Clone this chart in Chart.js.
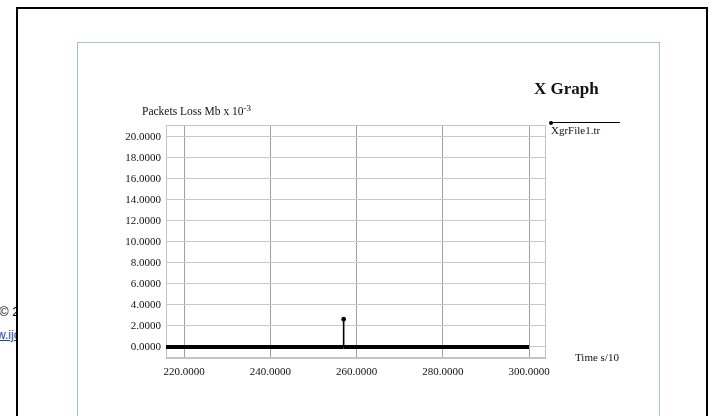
<!DOCTYPE html>
<html>
<head>
<meta charset="utf-8">
<script src="https://cdn.jsdelivr.net/npm/chart.js@4.4.1/dist/chart.umd.min.js"></script>
<style>
  html, body { margin:0; padding:0; background:#fff; width:715px; height:416px; overflow:hidden; }
  #wrap { position:relative; width:715px; height:416px; }
  .abs { position:absolute; white-space:nowrap; }
  #frame { position:absolute; left:16px; top:7px; width:692px; height:420px; border:2.5px solid #000; border-bottom:none; background:#fff; box-sizing:border-box; }
  #blue { position:absolute; left:77px; top:42px; width:583px; height:400px; border:1px solid #a4bfe3; border-bottom:none; box-sizing:border-box; }
  canvas { position:absolute; left:0; top:0; }
  .serif { font-family:"Liberation Serif","DejaVu Serif",serif; color:#111; }
</style>
</head>
<body>
<div id="wrap">
  <div class="abs" style="left:-1px;top:304px;font:13px 'Liberation Sans',Arial,sans-serif;color:#000;">© 2</div>
  <div class="abs" style="left:-3px;top:328px;font:12px 'Liberation Sans',Arial,sans-serif;color:#1a3fa8;text-decoration:underline;">w.ijcsit</div>
  <div id="frame"></div>
  <div id="blue"></div>
  <canvas id="c" width="715" height="416"></canvas>
  <div class="abs serif" style="left:534px;top:79px;font-size:17px;font-weight:bold;">X Graph</div>
  <div class="abs serif" style="left:142px;top:103px;font-size:11.5px;">Packets Loss Mb x 10<sup style="font-size:9px;vertical-align:4px;">-3</sup></div>
  <div class="abs serif" style="left:575px;top:351px;font-size:11px;">Time s/10</div>
  <div class="abs" style="left:550px;top:122px;width:70px;border-top:1.3px solid #000;"></div>
  <div class="abs" style="left:548.5px;top:121px;width:4px;height:4px;border-radius:2px;background:#000;"></div>
  <div class="abs serif" style="left:551px;top:124px;font-size:11px;">XgrFile1.tr</div>
</div>
<script>
// Data
const timeValues = [215.8, 257.0, 257.0, 257.0, 300.0];
const lossValues = [0, 0, 2.65, 0, 0];
const xTickValues = [220, 240, 260, 280, 300];
const yTickValues = [0, 2, 4, 6, 8, 10, 12, 14, 16, 18, 20];
const xRange = [215.8, 303.7];
const yRange = [-1.02, 21.14];

const points = timeValues.map((t, i) => ({ x: t, y: lossValues[i] }));

const areaBorder = {
  id: 'areaBorder',
  beforeDatasetsDraw(chart) {
    const a = chart.chartArea, ctx = chart.ctx;
    ctx.save();
    ctx.strokeStyle = '#c4c4c4';
    ctx.lineWidth = 1;
    ctx.strokeRect(Math.round(a.left) + 0.5, Math.round(a.top) + 0.5,
                   Math.round(a.right - a.left), Math.round(a.bottom - a.top));
    ctx.restore();
  }
};

const serif = '"Liberation Serif","DejaVu Serif",serif';

new Chart(document.getElementById('c'), {
  type: 'line',
  data: {
    datasets: [{
      label: 'XgrFile1.tr',
      data: points,
      borderColor: '#000',
      backgroundColor: '#000',
      borderWidth: 4,
      fill: false,
      tension: 0,
      pointRadius: ctx => (ctx.raw && ctx.raw.y > 0 ? 2.3 : 0),
      pointHoverRadius: 0,
      pointBackgroundColor: '#000',
      pointBorderWidth: 0,
      segment: {
        borderWidth: ctx => (ctx.p0.parsed.y === 0 && ctx.p1.parsed.y === 0 ? 4 : 1.6)
      }
    }]
  },
  options: {
    responsive: false,
    animation: false,
    events: [],
    layout: { padding: { left: 0, top: 125, right: 170, bottom: 0 } },
    plugins: { legend: { display: false }, title: { display: false }, tooltip: { enabled: false } },
    scales: {
      x: {
        type: 'linear',
        min: xRange[0],
        max: xRange[1],
        afterBuildTicks: s => { s.ticks = xTickValues.map(v => ({ value: v })); },
        afterFit: s => { s.height = 58.3; },
        ticks: {
          callback: v => Number(v).toFixed(4),
          color: '#111',
          font: { family: serif, size: 11 },
          padding: 8,
          maxRotation: 0,
          autoSkip: false
        },
        grid: { color: '#a0a0a0', lineWidth: 1, drawTicks: false },
        border: { display: true, color: '#c4c4c4' }
      },
      y: {
        type: 'linear',
        min: yRange[0],
        max: yRange[1],
        afterBuildTicks: s => { s.ticks = yTickValues.map(v => ({ value: v })); },
        afterFit: s => { s.width = 166; },
        ticks: {
          callback: v => Number(v).toFixed(4),
          color: '#111',
          font: { family: serif, size: 11 },
          padding: 5,
          autoSkip: false
        },
        grid: { color: '#c8c8c8', lineWidth: 1, drawTicks: false },
        border: { display: true, color: '#c4c4c4' }
      }
    }
  },
  plugins: [areaBorder]
});
</script>
</body>
</html>
